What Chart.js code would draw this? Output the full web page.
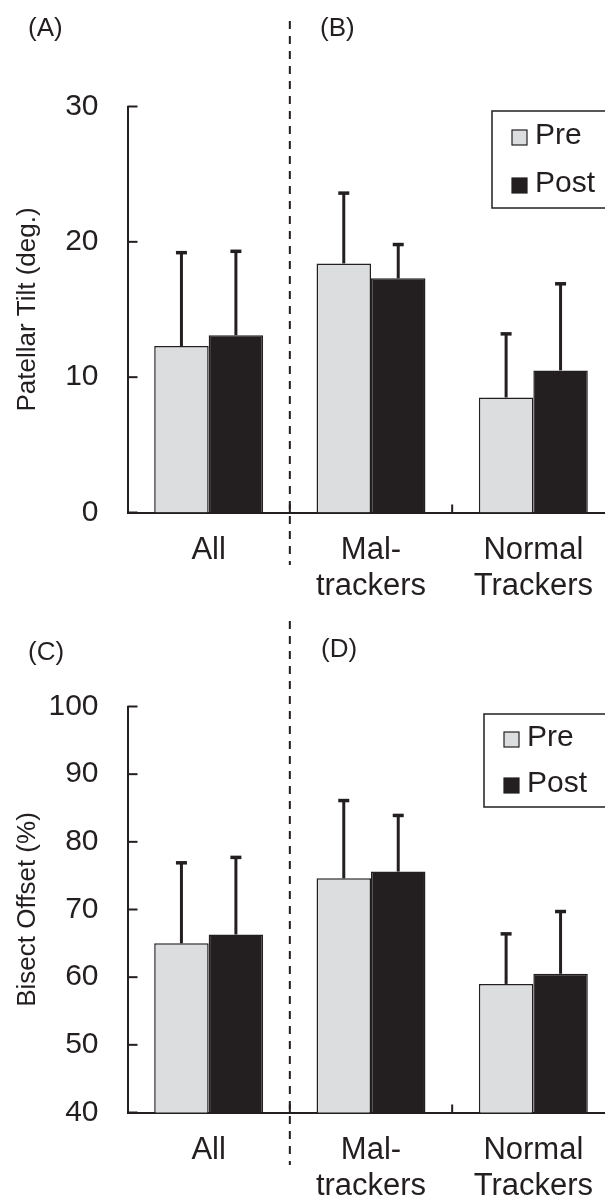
<!DOCTYPE html>
<html>
<head>
<meta charset="utf-8">
<script src="https://cdn.jsdelivr.net/npm/chart.js@4.4.1/dist/chart.umd.min.js"></script>
<style>
  html, body { margin: 0; padding: 0; background: #fff; overflow: hidden; }
  canvas { display: block; }
</style>
</head>
<body>
<canvas id="tilt" width="620" height="600"></canvas>
<canvas id="offset" width="620" height="600"></canvas>
<script>
// values (mean and upper SD)
const categories = [["All"], ["Mal-", "trackers"], ["Normal", "Trackers"]];
const seriesNames = ["Pre", "Post"];

const tiltPre = [12.3, 18.4, 8.5];
const tiltPreSd = [6.9, 5.2, 4.7];
const tiltPost = [13.1, 17.3, 10.5];
const tiltPostSd = [6.2, 2.5, 6.4];
const tiltTicks = [0, 10, 20, 30];

const offsetPre = [65.0, 74.6, 59.0];
const offsetPreSd = [11.9, 11.5, 7.4];
const offsetPost = [66.3, 75.6, 60.5];
const offsetPostSd = [11.4, 8.3, 9.2];
const offsetTicks = [40, 50, 60, 70, 80, 90, 100];

const INK = "#231f20";
const GREY = "#dcdddf";
const FONT = "'Liberation Sans', Arial, sans-serif";

// error bars, inner ticks, divider, panel letters and the boxed legend
const decor = {
    id: "decor",
    afterDatasetsDraw(chart) {
        const ctx = chart.ctx;
        const y = chart.scales.y;
        ctx.save();
        ctx.strokeStyle = INK;
        chart.data.datasets.forEach((ds, i) => {
            chart.getDatasetMeta(i).data.forEach((bar, j) => {
                const top = y.getPixelForValue(ds.data[j] + ds.sd[j]);
                ctx.lineWidth = 3;
                ctx.beginPath();
                ctx.moveTo(bar.x, bar.y);
                ctx.lineTo(bar.x, top);
                ctx.stroke();
                ctx.lineWidth = 3.5;
                ctx.beginPath();
                ctx.moveTo(bar.x - 5.5, top);
                ctx.lineTo(bar.x + 5.5, top);
                ctx.stroke();
            });
        });
        ctx.restore();
    },
    afterDraw(chart, args, opts) {
        const ctx = chart.ctx;
        const x = chart.scales.x;
        const y = chart.scales.y;
        const area = chart.chartArea;
        ctx.save();
        ctx.strokeStyle = INK;
        ctx.fillStyle = INK;

        // inward y ticks
        ctx.lineWidth = 2;
        y.ticks.forEach(t => {
            const py = y.getPixelForValue(t.value);
            ctx.beginPath();
            ctx.moveTo(area.left, py);
            ctx.lineTo(area.left + 10, py);
            ctx.stroke();
        });

        // upward ticks between categories
        const mid = [];
        for (let i = 0; i < chart.data.labels.length - 1; i++) {
            mid.push((x.getPixelForValue(i) + x.getPixelForValue(i + 1)) / 2);
        }
        mid.forEach(px => {
            ctx.beginPath();
            ctx.moveTo(px, area.bottom);
            ctx.lineTo(px, area.bottom - 8);
            ctx.stroke();
        });

        // dashed divider
        ctx.lineWidth = 2;
        ctx.setLineDash([8, 7]);
        ctx.beginPath();
        ctx.moveTo(mid[0], 21);
        ctx.lineTo(mid[0], 565);
        ctx.stroke();
        ctx.setLineDash([]);

        // panel letters
        ctx.font = "26px " + FONT;
        ctx.textBaseline = "middle";
        ctx.textAlign = "left";
        opts.panels.forEach(p => ctx.fillText(p.text, p.x, p.y));

        // legend
        const lg = opts.legend;
        ctx.lineWidth = 1.5;
        ctx.strokeRect(lg.x, lg.y, 200, lg.h);
        ctx.font = "30px " + FONT;
        chart.data.datasets.forEach((ds, i) => {
            const ry = lg.y + lg.row0 + i * lg.step;
            ctx.fillStyle = ds.backgroundColor;
            ctx.fillRect(lg.x + 20, ry - 6, 15, 15);
            ctx.lineWidth = 1.2;
            ctx.strokeRect(lg.x + 20, ry - 6, 15, 15);
            ctx.fillStyle = INK;
            ctx.fillText(ds.label, lg.x + 43, ry);
        });
        ctx.restore();
    }
};

function makeChart(id, pre, preSd, post, postSd, ticks, title, panels, legend) {
    return new Chart(document.getElementById(id), {
        type: "bar",
        data: {
            labels: categories,
            datasets: [
                { label: seriesNames[0], data: pre, sd: preSd, backgroundColor: GREY,
                  borderColor: INK, borderWidth: 1.5 },
                { label: seriesNames[1], data: post, sd: postSd, backgroundColor: INK,
                  borderColor: INK, borderWidth: 1.5 }
            ]
        },
        options: {
            responsive: false,
            animation: false,
            events: [],
            layout: { padding: { top: 106.5, right: 5.5, left: 0, bottom: 0 } },
            categoryPercentage: 0.671,
            barPercentage: 1.0,
            plugins: { legend: { display: false }, tooltip: { enabled: false },
                       decor: { panels: panels, legend: legend } },
            scales: {
                x: {
                    grid: { display: false },
                    border: { display: true, color: INK, width: 2 },
                    ticks: { color: INK, padding: 12, font: { family: FONT, size: 31, lineHeight: 1.16 },
                             maxRotation: 0, autoSkip: false },
                    afterFit: s => { s.height = 87.5; }
                },
                y: {
                    min: ticks[0],
                    max: ticks[ticks.length - 1],
                    afterBuildTicks: s => { s.ticks = ticks.map(v => ({ value: v })); },
                    grid: { display: false },
                    border: { display: true, color: INK, width: 2 },
                    ticks: { color: INK, padding: 21, font: { family: FONT, size: 30 } },
                    title: { display: true, text: title, color: INK, padding: { top: 12 },
                             font: { family: FONT, size: 26 } },
                    afterFit: s => { s.width = 127.5; }
                }
            }
        },
        plugins: [decor]
    });
}

makeChart("tilt", tiltPre, tiltPreSd, tiltPost, tiltPostSd, tiltTicks, "Patellar Tilt (deg.)",
    [{ text: "(A)", x: 28, y: 29 }, { text: "(B)", x: 320, y: 29 }],
    { x: 492, y: 111, h: 97, row0: 25, step: 48 });

makeChart("offset", offsetPre, offsetPreSd, offsetPost, offsetPostSd, offsetTicks, "Bisect Offset (%)",
    [{ text: "(C)", x: 28, y: 53 }, { text: "(D)", x: 321, y: 50 }],
    { x: 484, y: 114, h: 93, row0: 24, step: 46 });
</script>
</body>
</html>
